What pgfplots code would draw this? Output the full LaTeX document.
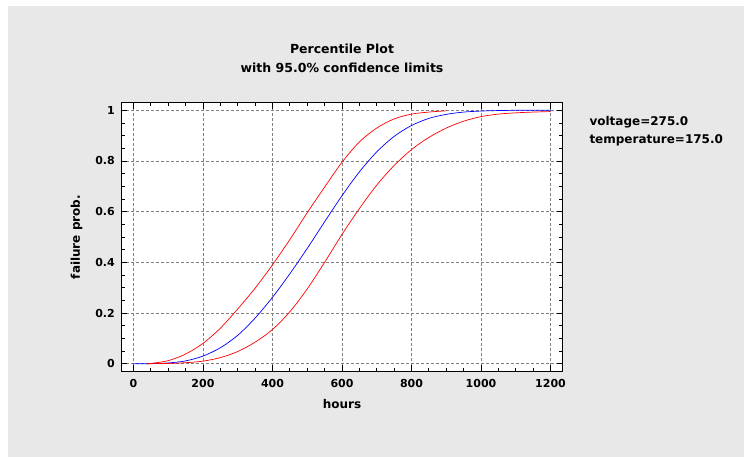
\documentclass[border=0pt]{standalone}
\usepackage{fontspec}
\setmainfont{DejaVu Sans}
\usepackage{pgfplots}
\pgfplotsset{compat=1.18}
\definecolor{panel}{RGB}{232,232,232}
\definecolor{gridc}{RGB}{128,128,128}

\begin{document}
\begin{tikzpicture}[x=1pt,y=1pt]
% page = 744 x 457 px, 1px = 1pt, axis box lower-left at (0,0)
\useasboundingbox (-121.3,371.3) rectangle (622.7,-85.7);
\fill[white] (-121.3,371.3) rectangle (622.7,-85.7);
\fill[panel] (-113.3,365.3) rectangle (622.7,-85.7);
\begin{axis}[
  at={(0,0)}, anchor=south west,
  scale only axis, width=441.4pt, height=268.6pt,
  xmin=-35, xmax=1235, ymin=-0.03, ymax=1.03,
  xtick={0,200,400,600,800,1000,1200},
  ytick={0,0.2,0.4,0.6,0.8,1},
  minor x tick num=3, minor y tick num=3,
  tick pos=both, tick align=inside,
  xticklabel pos=lower, yticklabel pos=left,
  major tick length=6pt, minor tick length=3.6pt,
  tick style={black, line width=0.9pt},
  axis line style={black, line width=1pt},
  axis background/.style={fill=white},
  grid=major,
  major grid style={gridc, dash pattern=on 3pt off 2pt, line width=0.7pt},
  scaled ticks=false,
  /pgf/number format/1000 sep={},
  /pgf/number format/assume math mode=true,
  ticklabel style={font=\bfseries\fontsize{11}{13}\selectfont},
  xticklabel style={yshift=-5pt},
  yticklabel style={xshift=-3pt},
  every axis plot/.append style={smooth, tension=0.5, line width=0.7pt},
]
\addplot[blue] coordinates {
 (0,0)(50,0.0003)(100,0.003)(150,0.011)(200,0.03)(250,0.063)(300,0.112)
 (350,0.18)(400,0.262)(450,0.355)(500,0.455)(550,0.56)(600,0.663)
 (650,0.757)(700,0.836)(750,0.897)(800,0.940)(850,0.968)(900,0.984)
 (950,0.993)(1000,0.997)(1050,0.999)(1100,1)(1150,1)(1200,1)};
\addplot[red] coordinates {
 (40,0)(50,0.001)(100,0.012)(150,0.038)(200,0.08)(250,0.14)(300,0.216)
 (350,0.298)(400,0.39)(450,0.49)(500,0.596)(550,0.697)(600,0.795)
 (650,0.875)(700,0.93)(750,0.966)(800,0.985)(850,0.993)(900,0.998)};
\addplot[red] coordinates {
 (40,0)(100,0.001)(150,0.004)(200,0.01)(250,0.024)(300,0.048)(350,0.085)
 (400,0.135)(450,0.205)(500,0.295)(550,0.40)(600,0.51)(650,0.612)
 (700,0.705)(750,0.782)(800,0.845)(850,0.893)(900,0.93)(950,0.957)
 (1000,0.975)(1050,0.985)(1100,0.99)(1150,0.993)(1200,0.995)};
\end{axis}
\begin{scope}[font=\bfseries\fontsize{12}{14}\selectfont]
\node[anchor=base] at (220.7,317.3) {\fontsize{12.5}{14}\selectfont Percentile Plot};
\node[anchor=base] at (220.7,298.6) {\fontsize{12.5}{14}\selectfont with 95.0\% confidence limits};
\node[anchor=base] at (220.7,-37) {hours};
\node[anchor=base, rotate=90] at (-41.3,134.3) {failure prob.};
\node[anchor=base west, inner sep=0] at (468,245.3) {voltage=275.0};
\node[anchor=base west, inner sep=0] at (468,228) {temperature=175.0};
\end{scope}
\end{tikzpicture}
\end{document}
